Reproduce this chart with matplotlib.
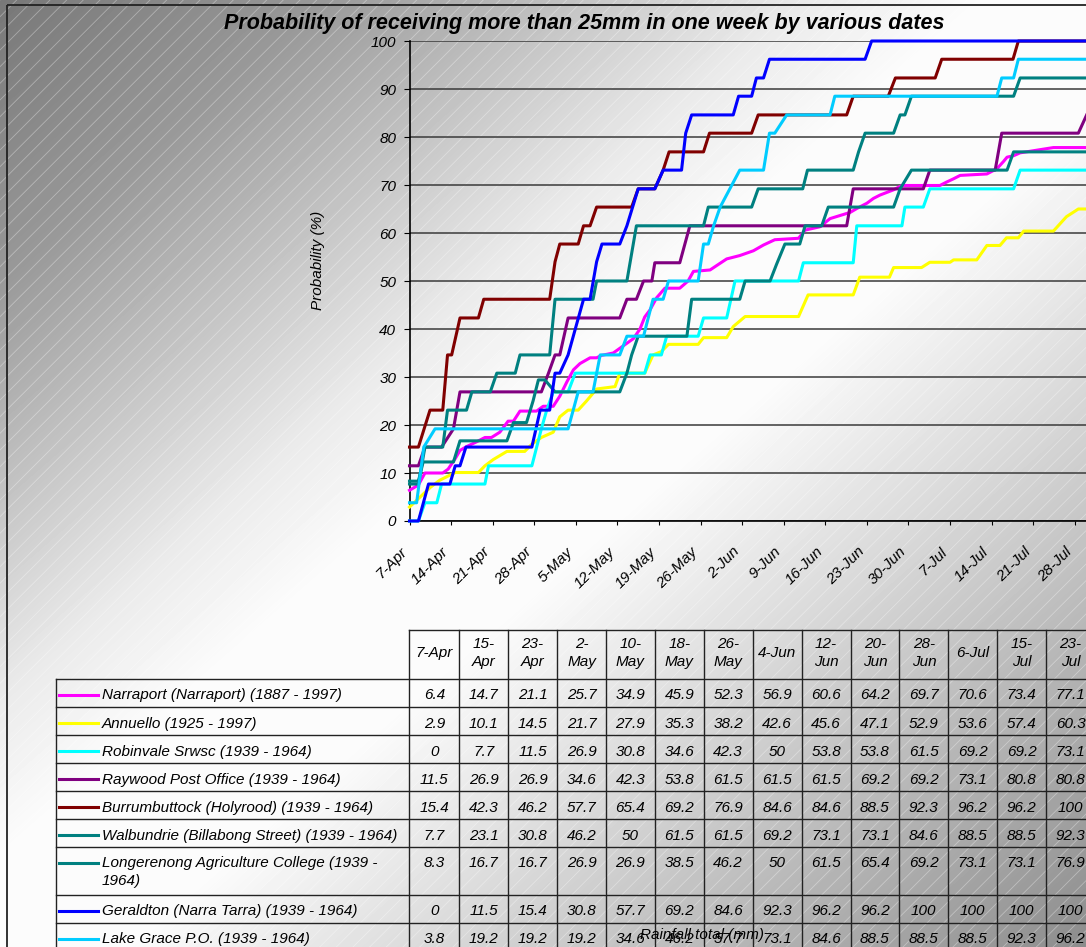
import numpy as np
import matplotlib.pyplot as plt
from matplotlib.patches import Rectangle

plt.rcParams['font.family'] = ['Liberation Sans', 'DejaVu Sans']
plt.rcParams['font.style'] = 'italic'
plt.rcParams['hatch.linewidth'] = 0.6

W, H = 1086, 947

title = "Probability of receiving more than 25mm in one week by various dates"

# x axis: days after 7-Apr, one tick a week
week_labels = ["7-Apr", "14-Apr", "21-Apr", "28-Apr", "5-May", "12-May", "19-May",
               "26-May", "2-Jun", "9-Jun", "16-Jun", "23-Jun", "30-Jun", "7-Jul",
               "14-Jul", "21-Jul", "28-Jul"]

# data table
table_dates = ["7-Apr", "15-\nApr", "23-\nApr", "2-\nMay", "10-\nMay", "18-\nMay",
               "26-\nMay", "4-Jun", "12-\nJun", "20-\nJun", "28-\nJun", "6-Jul",
               "15-\nJul", "23-\nJul"]

stations = ["Narraport (Narraport) (1887 - 1997)",
            "Annuello (1925 - 1997)",
            "Robinvale Srwsc (1939 - 1964)",
            "Raywood Post Office (1939 - 1964)",
            "Burrumbuttock (Holyrood) (1939 - 1964)",
            "Walbundrie (Billabong Street) (1939 - 1964)",
            "Longerenong Agriculture College (1939 -\n1964)",
            "Geraldton (Narra Tarra) (1939 - 1964)",
            "Lake Grace P.O. (1939 - 1964)"]
colors = ["#FF00FF", "#FFFF00", "#00FFFF", "#800080", "#800000",
          "#008080", "#008080", "#0000FF", "#00CCFF"]

narraport_tab = [6.4, 14.7, 21.1, 25.7, 34.9, 45.9, 52.3, 56.9, 60.6, 64.2, 69.7, 70.6, 73.4, 77.1]
annuello_tab = [2.9, 10.1, 14.5, 21.7, 27.9, 35.3, 38.2, 42.6, 45.6, 47.1, 52.9, 53.6, 57.4, 60.3]
robinvale_tab = [0, 7.7, 11.5, 26.9, 30.8, 34.6, 42.3, 50, 53.8, 53.8, 61.5, 69.2, 69.2, 73.1]
raywood_tab = [11.5, 26.9, 26.9, 34.6, 42.3, 53.8, 61.5, 61.5, 61.5, 69.2, 69.2, 73.1, 80.8, 80.8]
burrum_tab = [15.4, 42.3, 46.2, 57.7, 65.4, 69.2, 76.9, 84.6, 84.6, 88.5, 92.3, 96.2, 96.2, 100]
walbundrie_tab = [7.7, 23.1, 30.8, 46.2, 50, 61.5, 61.5, 69.2, 73.1, 73.1, 84.6, 88.5, 88.5, 92.3]
longerenong_tab = [8.3, 16.7, 16.7, 26.9, 26.9, 38.5, 46.2, 50, 61.5, 65.4, 69.2, 73.1, 73.1, 76.9]
geraldton_tab = [0, 11.5, 15.4, 30.8, 57.7, 69.2, 84.6, 92.3, 96.2, 96.2, 100, 100, 100, 100]
lakegrace_tab = [3.8, 19.2, 19.2, 19.2, 34.6, 46.2, 57.7, 73.1, 84.6, 88.5, 88.5, 88.5, 92.3, 96.2]

# daily curves (day after 7-Apr, probability %)
narraport_days = [0, 1.5, 2.6, 5.6, 6.5, 7.7, 8.5, 9.6, 11.3, 12.7, 13.8, 15.2, 16.6, 17.5, 18.6,
                  21.4, 22.5, 24.2, 25.3, 26.5, 27.6, 28.7, 30.4, 31.5, 32.3, 34.3, 36.0, 37.7,
                  38.8, 39.6, 40.5, 41.6, 43.0, 45.5, 46.9, 47.8, 50.6, 52.3, 53.4, 55.6, 57.9,
                  59.6, 61.5, 65.5, 66.6, 69.1, 70.8, 74.2, 75.3, 77.0, 78.1, 79.2, 81.5, 82.9,
                  89.3, 90.4, 91.6, 92.7, 97.2, 98.9, 100.0, 100.6, 101.7, 102.8, 108.4, 114]
narraport_vals = [6.4, 7.5, 10.0, 10.0, 10.8, 13.0, 14.7, 15.5, 16.5, 17.4, 17.4, 18.5, 20.8, 20.8, 22.9,
                  22.9, 23.9, 23.9, 26.0, 29.0, 31.5, 32.8, 34.0, 34.0, 34.5, 35.0, 36.5, 38.0,
                  40.0, 42.5, 44.0, 46.5, 48.5, 48.5, 50.0, 52.0, 52.3, 53.7, 54.6, 55.3, 56.3,
                  57.5, 58.6, 58.9, 60.6, 61.3, 63.0, 64.3, 65.1, 66.2, 67.2, 67.9, 69.0, 69.9,
                  69.9, 70.6, 71.3, 72.0, 72.3, 73.4, 74.9, 75.8, 76.1, 76.7, 77.8, 77.8]

annuello_days = [0, 3.5, 5.1, 7.7, 11.6, 12.7, 14.1, 16.4, 19.4, 20.6, 22.2, 24.2, 25.3, 26.7, 28.4,
                 29.8, 31.5, 34.6, 35.4, 39.6, 41.0, 42.4, 43.6, 48.6, 49.5, 53.4, 54.5, 56.5, 65.5,
                 67.1, 74.7, 75.8, 80.8, 81.5, 86.2, 87.6, 91.0, 91.6, 95.5, 97.2, 99.4, 100.5,
                 102.5, 103.4, 108.4, 110.6, 112.6, 114]
annuello_vals = [2.9, 7.0, 8.5, 10.1, 10.1, 11.5, 12.8, 14.5, 14.5, 16.0, 17.4, 18.5, 21.7, 23.1, 23.1,
                 25.0, 27.5, 28.0, 30.8, 30.8, 34.6, 35.3, 36.8, 36.8, 38.2, 38.2, 40.5, 42.6, 42.6,
                 47.1, 47.1, 50.8, 50.8, 52.8, 52.8, 53.9, 53.9, 54.4, 54.4, 57.4, 57.4, 59.0,
                 59.0, 60.4, 60.4, 63.4, 65.0, 65.0]

robinvale_days = [0, 1.5, 2.6, 4.6, 5.4, 12.7, 13.3, 20.6, 22.2, 23.1, 24.2, 26.7, 27.9, 39.6, 40.5,
                  42.4, 43.3, 48.6, 49.5, 53.4, 54.8, 65.5, 66.3, 74.7, 75.3, 82.9, 83.4, 86.5,
                  87.6, 101.7, 102.8, 114]
robinvale_vals = [0, 0, 3.8, 3.8, 7.7, 7.7, 11.5, 11.5, 19.2, 23.1, 26.9, 26.9, 30.8, 30.8, 34.6,
                  34.6, 38.5, 38.5, 42.3, 42.3, 50, 50, 53.8, 53.8, 61.5, 61.5, 65.4, 65.4,
                  69.2, 69.2, 73.1, 73.1]

raywood_days = [0, 1.5, 2.6, 5.4, 7.4, 8.5, 22.2, 23.4, 24.5, 25.3, 26.7, 35.4, 36.6, 38.2, 39.4,
                40.8, 41.3, 45.5, 47.2, 73.6, 74.7, 86.5, 87.6, 98.6, 99.7, 112.6, 114]
raywood_vals = [11.5, 11.5, 15.4, 15.4, 19.2, 26.9, 26.9, 30.8, 34.6, 34.6, 42.3, 42.3, 46.2, 46.2, 50,
                50, 53.8, 53.8, 61.5, 61.5, 69.2, 69.2, 73.1, 73.1, 80.8, 80.8, 84.6]

burrum_days = [0, 1.5, 3.45, 5.6, 6.4, 7.1, 8.5, 11.6, 12.5, 23.6, 24.5, 25.3, 28.4, 29.3, 30.4,
               31.5, 37.4, 38.5, 41.3, 42.7, 43.7, 49.5, 50.5, 57.6, 58.7, 73.6, 74.7, 80.6,
               81.8, 88.5, 89.6, 101.6, 102.5, 114]
burrum_vals = [15.4, 15.4, 23.1, 23.1, 34.6, 34.6, 42.3, 42.3, 46.2, 46.2, 54, 57.7, 57.7, 61.5, 61.5,
               65.4, 65.4, 69.2, 69.2, 73.1, 76.9, 76.9, 80.8, 80.8, 84.6, 84.6, 88.5, 88.5,
               92.3, 92.3, 96.2, 96.2, 100, 100]

walbundrie_days = [0, 1.5, 2.6, 5.6, 6.4, 9.6, 10.5, 13.6, 14.7, 17.8, 18.6, 23.6, 24.5, 30.9, 31.5,
                   36.6, 38.2, 49.5, 50.3, 57.6, 58.7, 66.2, 67.0, 74.7, 75.6, 76.7, 81.5, 82.6,
                   83.4, 84.5, 101.7, 102.8, 114]
walbundrie_vals = [7.7, 7.7, 15.4, 15.4, 23.1, 23.1, 26.9, 26.9, 30.8, 30.8, 34.6, 34.6, 46.2, 46.2, 50,
                   50, 61.5, 61.5, 65.4, 65.4, 69.2, 69.2, 73.1, 73.1, 76.9, 80.8, 80.8, 84.6,
                   84.6, 88.5, 88.5, 92.3, 92.3]

longerenong_days = [0, 1.5, 2.3, 7.4, 8.5, 16.4, 17.5, 19.7, 20.8, 21.7, 22.8, 24.5, 35.4, 36.6, 37.4,
                    38.5, 46.7, 47.5, 55.6, 56.5, 60.7, 61.8, 63.2, 65.7, 66.6, 69.4, 70.5, 81.5,
                    82.6, 84.5, 100.6, 101.7, 114]
longerenong_vals = [8.3, 8.3, 12.3, 12.3, 16.7, 16.7, 20.5, 20.5, 25, 29.4, 29.4, 26.9, 26.9, 30.8, 34.6,
                    38.5, 38.5, 46.2, 46.2, 50, 50, 53.5, 57.7, 57.7, 61.5, 61.5, 65.4, 65.4,
                    69.2, 73.1, 73.1, 76.9, 76.9]

geraldton_days = [0, 1.5, 3.2, 6.8, 7.7, 8.5, 9.5, 20.6, 22.0, 23.6, 24.5, 25.3, 26.7, 29.3, 30.4,
                  31.5, 32.4, 35.4, 36.6, 38.5, 41.3, 42.7, 45.8, 46.5, 47.5, 54.5, 55.4, 57.6,
                  58.4, 59.6, 60.6, 76.7, 77.8, 114]
geraldton_vals = [0, 0, 7.7, 7.7, 11.5, 11.5, 15.4, 15.4, 23.1, 23.1, 30.8, 30.8, 34.6, 46.2, 46.2,
                  54, 57.7, 57.7, 61.5, 69.2, 69.2, 73.1, 73.1, 80.8, 84.6, 84.6, 88.5, 88.5,
                  92.3, 92.3, 96.2, 96.2, 100, 100]

lakegrace_days = [0, 1.2, 2.4, 4.3, 26.7, 28.4, 30.9, 32.1, 35.4, 36.6, 39.4, 41.0, 42.7, 43.6, 48.6,
                  49.5, 50.3, 51.2, 52.3, 55.6, 59.6, 60.6, 61.5, 63.5, 70.8, 71.6, 98.9, 99.7,
                  101.7, 102.5, 114]
lakegrace_vals = [3.8, 3.8, 15.4, 19.2, 19.2, 26.9, 26.9, 34.6, 34.6, 38.5, 38.5, 46.2, 46.2, 50, 50,
                  57.7, 57.7, 61.5, 65.4, 73.1, 73.1, 80.8, 80.8, 84.6, 84.6, 88.5, 88.5, 92.3,
                  92.3, 96.2, 96.2]

curves = [(narraport_days, narraport_vals), (annuello_days, annuello_vals),
          (robinvale_days, robinvale_vals), (raywood_days, raywood_vals),
          (burrum_days, burrum_vals), (walbundrie_days, walbundrie_vals),
          (longerenong_days, longerenong_vals), (geraldton_days, geraldton_vals),
          (lakegrace_days, lakegrace_vals)]
table_rows = [narraport_tab, annuello_tab, robinvale_tab, raywood_tab, burrum_tab,
              walbundrie_tab, longerenong_tab, geraldton_tab, lakegrace_tab]

fig = plt.figure(figsize=(W / 100, H / 100), dpi=100)

# background: grey diagonal gradient with fine white hatching
bg = fig.add_axes([0, 0, 1, 1], zorder=0)
bg.set_xlim(0, W)
bg.set_ylim(H, 0)
bg.axis("off")
yy, xx = np.mgrid[0:H, 0:W]
t = (xx / W + yy / H) / 2
shade = np.interp(t, [0, 0.15, 0.3, 0.37, 0.45, 0.56, 0.7, 1.0],
                  [0.47, 0.6, 0.82, 0.92, 0.985, 0.985, 0.85, 0.55])
bg.imshow(shade, cmap="gray", vmin=0, vmax=1, extent=(0, W, H, 0), aspect="auto", zorder=0)
bg.add_patch(Rectangle((0, 0), W, H, facecolor="none", edgecolor=(1, 1, 1, 0.35),
                       hatch="//", lw=0, zorder=1))
bg.add_patch(Rectangle((7, 5), W + 20, H + 20, facecolor="none", edgecolor="#222222",
                       lw=1.3, zorder=2))

bg.text(584, 23, title, ha="center", va="center", fontsize=15.5, fontweight="bold")
bg.text(318, 260, "Probability (%)", rotation=90, ha="center", va="center", fontsize=11)

# chart
px_per_day = 5.94
x0, y_top, y_bot = 409.5, 41, 521
ax = fig.add_axes([x0 / W, (H - y_bot) / H, (W - x0) / W, (y_bot - y_top) / H], zorder=2)
ax.patch.set_alpha(0)
ax.set_xlim(0, (W - x0) / px_per_day)
ax.set_ylim(0, 100)

for (days, vals), c in zip(curves, colors):
    ax.plot(days, vals, color=c, lw=2.2, clip_on=False, zorder=3)

ax.set_yticks(range(0, 101, 10))
ax.set_xticks(range(0, 7 * len(week_labels), 7))
ax.set_xticklabels(week_labels, rotation=45, ha="right")
ax.tick_params(axis="x", length=3, pad=14, labelsize=11, direction="out")
ax.tick_params(axis="y", length=4.5, pad=5, labelsize=11, direction="out")
ax.yaxis.grid(True, color="#3a3a3a", lw=1.1)
ax.set_axisbelow(True)
for s in ["top", "right"]:
    ax.spines[s].set_visible(False)
for s in ["left", "bottom"]:
    ax.spines[s].set_color("black")
    ax.spines[s].set_linewidth(1.2)

# data table under the chart
line_kw = dict(color="#222222", lw=1, zorder=4)
col_edges = [409.3] + [459.3 + 48.9 * k for k in range(len(table_dates))]
head_top, head_bot = 629.5, 678.5
row_heights = [28.5, 28, 28, 28, 28, 27.5, 48, 28, 28]
row_tops = [head_bot]
for h in row_heights:
    row_tops.append(row_tops[-1] + h)
bottom = row_tops[-1]

bg.plot([col_edges[0], W], [head_top, head_top], **line_kw)
for y in row_tops:
    bg.plot([56, W], [y, y], **line_kw)
bg.plot([56, 56], [head_bot, bottom], **line_kw)
for x in col_edges:
    bg.plot([x, x], [head_top, bottom], **line_kw)

for j, lab in enumerate(table_dates):
    cx = (col_edges[j] + col_edges[j + 1]) / 2
    bg.text(cx, 653, lab, ha="center", va="center", fontsize=11, linespacing=1.4, zorder=5)

for i, (name, c, vals) in enumerate(zip(stations, colors, table_rows)):
    top = row_tops[i]
    bg.plot([58.5, 97.5], [top + 16, top + 16], color=c, lw=2.2, zorder=5)
    bg.text(102, top + 9.5, name, ha="left", va="top", fontsize=11, linespacing=1.4, zorder=5)
    for j, v in enumerate(vals):
        cx = (col_edges[j] + col_edges[j + 1]) / 2
        bg.text(cx, top + 9.5, f"{v:g}", ha="center", va="top", fontsize=11, zorder=5)

# axis title that Excel left sitting on top of the table
bg.text(702, 935, "Rainfall total (mm)", ha="center", va="center", fontsize=11, zorder=6)

fig.savefig("out.png", dpi=100)
